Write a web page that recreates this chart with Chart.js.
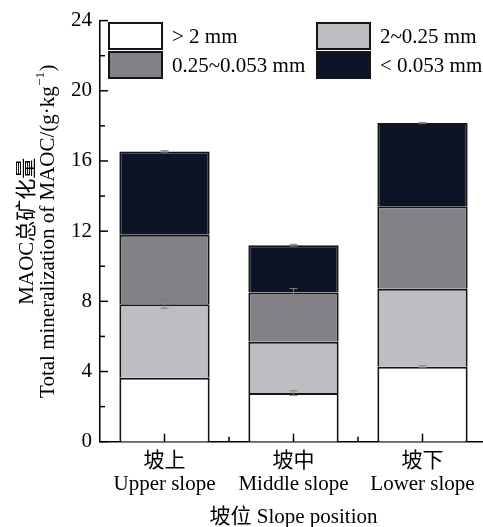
<!DOCTYPE html>
<html><head><meta charset="utf-8">
<script src="https://cdn.jsdelivr.net/npm/chart.js@4.4.1/dist/chart.umd.min.js"></script>
<style>html,body{margin:0;padding:0;background:#fff;overflow:hidden}#wrap{width:483px;height:527px;overflow:hidden;position:relative}canvas{display:block}</style>
</head><body><div id="wrap"><canvas id="c" width="487" height="527" style="width:487px;height:527px"></canvas></div>
<script>
const categoriesZh = ['坡上', '坡中', '坡下'];
const categoriesEn = ['Upper slope', 'Middle slope', 'Lower slope'];
const seriesLabels = ['> 2 mm', '2~0.25 mm', '0.25~0.053 mm', '< 0.053 mm'];
const gt2mm = [3.64, 2.77, 4.27];
const mm2to025 = [4.19, 2.92, 4.45];
const mm025to0053 = [3.97, 2.82, 4.70];
const lt0053mm = [4.74, 2.69, 4.74];
const gt2mmErr = [0, 0.13, 0.05];
const mm2to025Err = [0.22, 0, 0];
const mm025to0053Err = [0, 0.22, 0];
const lt0053mmErr = [0.04, 0.05, 0.03];
const yMin = 0, yMax = 24, yStep = 4, yMinorStep = 2;
const xTitle = '坡位 Slope position';
const yTitleLine1 = 'MAOC总矿化量';
const yTitleLine2 = 'Total mineralization of MAOC/(g·kg';
const yTitleSup = '−1';
const yTitleEnd = ')';

const seriesColors = ['#ffffff', '#bebdc1', '#838185', '#0e1428'];
const seriesValues = [gt2mm, mm2to025, mm025to0053, lt0053mm];
const seriesErrors = [gt2mmErr, mm2to025Err, mm025to0053Err, lt0053mmErr];
const SERIF = "'Liberation Serif', 'Noto Sans CJK SC', serif";
const FS = 21;

const customPlugin = {
  id: 'custom',
  afterDatasetsDraw(chart) {
    const ctx = chart.ctx;
    const ys = chart.scales.y;
    ctx.save();
    ctx.strokeStyle = '#7a7a7a';
    ctx.lineWidth = 1;
    const n = categoriesEn.length;
    for (let i = 0; i < n; i++) {
      let cum = 0;
      for (let s = 0; s < seriesValues.length; s++) {
        cum += seriesValues[s][i];
        const e = seriesErrors[s][i];
        if (!e) continue;
        const meta = chart.getDatasetMeta(s);
        const x = meta.data[i].x;
        const y1 = ys.getPixelForValue(cum + e), y2 = ys.getPixelForValue(cum - e);
        ctx.beginPath();
        ctx.moveTo(x, y1); ctx.lineTo(x, y2);
        ctx.moveTo(x - 4, y1); ctx.lineTo(x + 4, y1);
        ctx.moveTo(x - 4, y2); ctx.lineTo(x + 4, y2);
        ctx.stroke();
      }
    }
    ctx.restore();
  },
  afterDraw(chart) {
    const ctx = chart.ctx, ca = chart.chartArea;
    const xs = chart.scales.x, ys = chart.scales.y;
    ctx.save();
    ctx.strokeStyle = '#000';
    ctx.lineWidth = 1.5;
    for (let v = yMin; v <= yMax; v += yMinorStep) {
      const y = ys.getPixelForValue(v);
      const len = (v % yStep === 0) ? 8 : 5;
      ctx.beginPath(); ctx.moveTo(ca.left, y); ctx.lineTo(ca.left + len, y); ctx.stroke();
    }
    const n = categoriesEn.length;
    for (let i = 0; i < n; i++) {
      const x = xs.getPixelForValue(i);
      ctx.beginPath(); ctx.moveTo(x, ca.bottom); ctx.lineTo(x, ca.bottom - 8); ctx.stroke();
      if (i < n - 1) {
        const xm = (x + xs.getPixelForValue(i + 1)) / 2;
        ctx.beginPath(); ctx.moveTo(xm, ca.bottom); ctx.lineTo(xm, ca.bottom - 5); ctx.stroke();
      }
    }
    ctx.restore();

    // legend
    ctx.save();
    const colX = [ca.left + 9, ca.left + 217];
    const rowY = [23, 52];
    ctx.font = FS + 'px ' + SERIF;
    ctx.textBaseline = 'middle';
    ctx.textAlign = 'left';
    for (let s = 0; s < seriesLabels.length; s++) {
      const bx = colX[s % 2], by = rowY[Math.floor(s / 2)];
      ctx.fillStyle = seriesColors[s];
      ctx.fillRect(bx, by, 53, 26);
      ctx.strokeStyle = '#151515';
      ctx.lineWidth = 2;
      ctx.strokeRect(bx, by, 53, 26);
      ctx.fillStyle = '#000';
      ctx.fillText(seriesLabels[s], bx + 63, by + 14);
    }
    ctx.restore();

    // x title
    ctx.save();
    ctx.font = FS + 'px ' + SERIF;
    ctx.fillStyle = '#000';
    ctx.textAlign = 'center';
    ctx.textBaseline = 'middle';
    ctx.fillText(xTitle, (ca.left + ca.right) / 2, 517);
    ctx.restore();

    // y title
    ctx.save();
    const cy = (ca.top + ca.bottom) / 2;
    ctx.fillStyle = '#000';
    ctx.textBaseline = 'middle';
    ctx.translate(27, cy);
    ctx.rotate(-Math.PI / 2);
    ctx.font = FS + 'px ' + SERIF;
    ctx.textAlign = 'center';
    ctx.fillText(yTitleLine1, 0, 0);
    ctx.restore();

    ctx.save();
    ctx.fillStyle = '#000';
    ctx.textBaseline = 'middle';
    ctx.translate(48, cy);
    ctx.rotate(-Math.PI / 2);
    ctx.textAlign = 'left';
    const mainFont = FS + 'px ' + SERIF, supFont = '13px ' + SERIF;
    ctx.font = mainFont; const w1 = ctx.measureText(yTitleLine2).width;
    ctx.font = supFont; const w2 = ctx.measureText(yTitleSup).width;
    ctx.font = mainFont; const w3 = ctx.measureText(yTitleEnd).width;
    const x0 = -(w1 + w2 + w3 + 1) / 2;
    ctx.font = mainFont; ctx.fillText(yTitleLine2, x0, 0);
    ctx.font = supFont; ctx.fillText(yTitleSup, x0 + w1 + 0.5, -7);
    ctx.font = mainFont; ctx.fillText(yTitleEnd, x0 + w1 + w2 + 1, 0);
    ctx.restore();
  }
};

new Chart(document.getElementById('c'), {
  type: 'bar',
  data: {
    labels: categoriesEn.map((en, i) => [categoriesZh[i], en]),
    datasets: seriesLabels.map((lab, s) => ({
      label: lab,
      data: seriesValues[s],
      backgroundColor: seriesColors[s],
      borderColor: '#151515',
      borderWidth: 2,
      borderSkipped: 'start',
      barPercentage: 0.7,
      categoryPercentage: 1.0
    }))
  },
  options: {
    responsive: false,
    animation: false,
    devicePixelRatio: 1,
    layout: { padding: { top: 16.6, left: 0, right: 0, bottom: 0 } },
    plugins: { legend: { display: false }, tooltip: { enabled: false } },
    scales: {
      x: {
        stacked: true,
        grid: { display: false, drawTicks: false },
        border: { display: true, color: '#000', width: 1.5 },
        ticks: { color: '#000', padding: 8, font: { family: SERIF, size: FS, lineHeight: 1.1 }, maxRotation: 0 },
        afterFit(scale) { scale.height = 527 - 16.6 - 425.1; }
      },
      y: {
        stacked: true,
        min: yMin, max: yMax,
        grid: { display: false, drawTicks: false },
        border: { display: true, color: '#000', width: 1.5 },
        ticks: { stepSize: yStep, color: '#000', padding: 8, font: { family: SERIF, size: FS } },
        afterFit(scale) { scale.width = 100; }
      }
    }
  },
  plugins: [customPlugin]
});
</script>
</body></html>
